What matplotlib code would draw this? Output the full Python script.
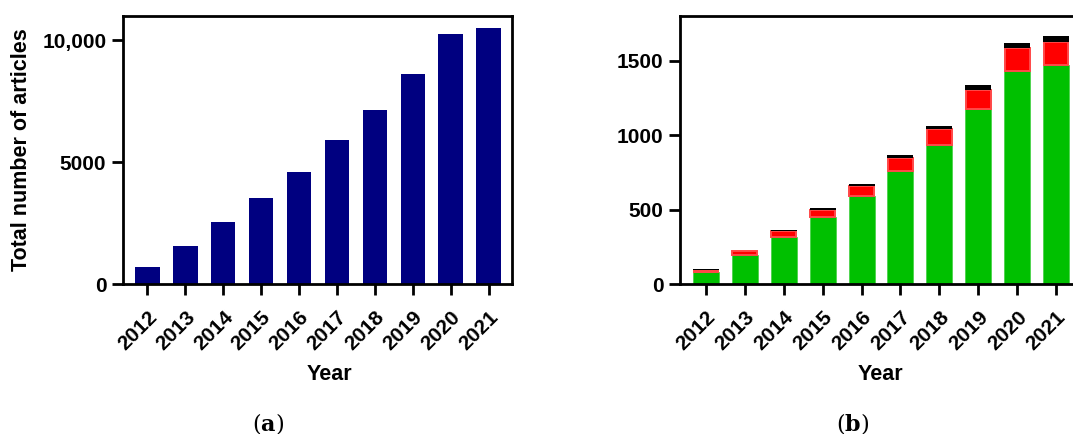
import numpy as np
import matplotlib
matplotlib.use("Agg")
import matplotlib.pyplot as plt

plt.rcParams['font.family'] = ['Liberation Sans', 'DejaVu Sans']
plt.rcParams['font.weight'] = 'bold'
plt.rcParams['mathtext.fontset'] = 'dejavuserif'

years = ['2012', '2013', '2014', '2015', '2016', '2017', '2018', '2019', '2020', '2021']
total_articles = [700, 1570, 2530, 3540, 4615, 5910, 7150, 8600, 10250, 10525]

# panel (b) stacked parts
green_part = [83, 198, 315, 450, 590, 761, 934, 1176, 1434, 1468]
red_part = [12, 22, 40, 45, 67, 86, 106, 130, 154, 160]
black_part = [3, 5, 10, 18, 14, 18, 23, 32, 34, 36]

x = np.arange(len(years))

fig = plt.figure(figsize=(10.73, 4.34), dpi=100)
ax1 = fig.add_axes([0.1146, 0.3456, 0.3625, 0.6175])
ax2 = fig.add_axes([0.6337, 0.3456, 0.3747, 0.6175])

ax1.bar(x, total_articles, width=0.65, color='#000080')
ax1.set_xlim(-0.64, 9.61)
ax1.set_ylim(0, 11000)
ax1.set_yticks([0, 5000, 10000])
ax1.set_yticklabels(['0', '5000', '10,000'])
ax1.set_ylabel('Total number of articles', fontsize=15.5, fontweight='bold')
ax1.yaxis.set_label_coords(-0.235, 0.5)

g = np.array(green_part)
r = np.array(red_part)
b = np.array(black_part)
ax2.bar(x, g, width=0.67, color='#00c000', edgecolor='#40d040', linewidth=0.5)
ax2.bar(x, r, width=0.64, bottom=g, color='#ff0000', edgecolor='#ff4848', linewidth=1.4)
ax2.bar(x, b, width=0.67, bottom=g + r, color='#000000')
ax2.set_xlim(-0.67, 9.67)
ax2.set_ylim(0, 1800)
ax2.set_yticks([0, 500, 1000, 1500])

for ax, cx in [(ax1, 0.532), (ax2, 0.4975)]:
    ax.set_xticks(x)
    ax.set_xticklabels(years, rotation=45, ha='right', rotation_mode='anchor')
    for sp in ax.spines.values():
        sp.set_linewidth(2)
    ax.tick_params(axis='both', length=8, width=2, labelsize=15, pad=4)
    ax.tick_params(axis='x', pad=9)
    ax.set_xlabel('Year', fontsize=15.5, fontweight='bold')
    ax.xaxis.set_label_coords(cx, -0.30)

fig.text(268 / 1073, 1 - 423 / 434, r'($\mathbf{a}$)', fontsize=16,
         ha='center', va='center', weight='normal', family='DejaVu Serif')
fig.text(853 / 1073, 1 - 423 / 434, r'($\mathbf{b}$)', fontsize=16,
         ha='center', va='center', weight='normal', family='DejaVu Serif')

fig.savefig('out.png', dpi=100)
